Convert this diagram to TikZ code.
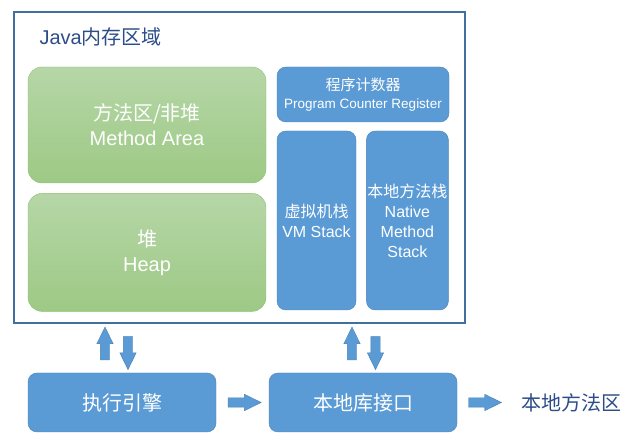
\documentclass[tikz,border=0pt]{standalone}
\usepackage{fontspec}
\setmainfont{Liberation Sans}
\newfontfamily\cjk{Noto Sans CJK SC}
\usetikzlibrary{positioning, calc, shapes.arrows}
\definecolor{framecol}{HTML}{41709F}
\definecolor{titlecol}{HTML}{2C4D88}
\definecolor{bluefill}{HTML}{5B9BD5}
\definecolor{blueline}{HTML}{4A80B5}
\definecolor{greentop}{HTML}{B6D6A7}
\definecolor{greenbot}{HTML}{9DC985}
\definecolor{greenline}{HTML}{8EBF72}
\tikzset{
x=1pt, y=-1pt, % one unit is one pixel of the reference
area/.style={draw=greenline, top color=greentop, bottom color=greenbot, rounded corners=14pt, text=white, align=center, font=\fontsize{20}{25}\selectfont, minimum width=238pt}, % green areas
region/.style={draw=blueline, fill=bluefill, rounded corners=9pt, text=white, align=center, inner sep=0pt}, % blue boxes
blockarrow/.style={single arrow, draw=blueline, fill=bluefill, inner xsep=0pt, inner ysep=4.5pt, minimum height=33pt, single arrow head extend=3.5pt, single arrow tip angle=52}, % fat arrows
}

\begin{document}
\begin{tikzpicture}
    \useasboundingbox (0,0) rectangle (640,443);
    % memory areas
    \node[draw=framecol, line width=1.6pt, minimum width=451pt, minimum height=311pt] (jvm) at (239.5,167.5) {};
    \node[anchor=west, text=titlecol, font=\fontsize{20}{24}\selectfont] (title) at (36,37) {Java{\cjk 内存区域}};
    \node[area, minimum height=116pt] (method) at (147,125) {{\cjk 方法区/非堆}\\Method Area};
    \node[area, minimum height=118pt, below=10pt of method] (heap) {{\cjk 堆}\\Heap};
    \node[region, minimum width=172pt, minimum height=55pt, font=\fontsize{13.5}{18}\selectfont] (pc) at (363,94.5) {{\cjk\fontsize{15}{18}\selectfont 程序计数器}\\Program Counter Register};
    \node[region, minimum width=79pt, minimum height=179pt, font=\fontsize{16}{20}\selectfont] (vm) at (316.5,220.5) {{\cjk 虚拟机栈}\\VM Stack};
    \node[region, minimum width=82pt, minimum height=179pt, font=\fontsize{16}{20}\selectfont, right=10pt of vm] (native) {{\cjk 本地方法栈}\\Native\\Method\\Stack};
    % engine and interface
    \node[region, minimum width=188pt, minimum height=59pt, font=\cjk\fontsize{20}{24}\selectfont] (exec) at (122,402.5) {执行引擎};
    \node[region, minimum width=188pt, minimum height=59pt, font=\cjk\fontsize{20}{24}\selectfont] (jni) at (363,402.5) {本地库接口};
    \node[text=titlecol, font=\cjk\fontsize{20}{24}\selectfont] (lib) at (571,403) {本地方法区};
    % arrows
    \node[blockarrow, rotate=90] (up1) at ($(exec.north -| 105,0)!0.5!(jvm.south -| 105,0)$) {};
    \node[blockarrow, rotate=-90] (down1) at ($(exec.north -| 128,0)!0.5!(jvm.south -| 128,0)$) {};
    \node[blockarrow, rotate=90] (up2) at ($(jni.north -| 352,0)!0.5!(jvm.south -| 352,0)$) {};
    \node[blockarrow, rotate=-90] (down2) at ($(jni.north -| 375.5,0)!0.5!(jvm.south -| 375.5,0)$) {};
    \node[blockarrow] (right1) at ($(exec.east)!0.45!(jni.west)$) {};
    \node[blockarrow] (right2) at ([xshift=23pt]jni.east) {};
\end{tikzpicture}
\end{document}
